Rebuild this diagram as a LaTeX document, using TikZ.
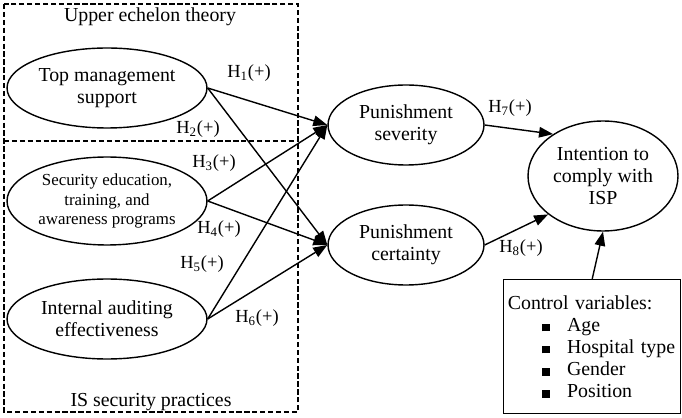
\documentclass[tikz,border=0pt]{standalone}
\usepackage{fontspec}
\setmainfont{Liberation Serif}
\usetikzlibrary{shapes.geometric,arrows.meta}

\newcommand\cvitem{\hspace*{19.5pt}\rule{4.2pt}{4.2pt}\hspace{10pt}}

\tikzset{
  construct/.style={ellipse,draw,line width=0.8pt,inner sep=0pt,align=center,
    font=\fontsize{11.3}{12.4}\selectfont},
  hypo/.style={-{Triangle[length=8pt,width=6pt]},line width=0.8pt},
  hlabel/.style={font=\fontsize{10.5}{12}\selectfont,inner sep=0pt},
  groupbox/.style={draw,line width=0.6pt,dash pattern=on 3pt off 1.5pt},
}

\begin{document}
\begin{tikzpicture}[x=0.02cm,y=-0.02cm]
    \useasboundingbox (0,0) rectangle (682,418);

    % theory groups
    \draw [groupbox] (4,4) rectangle (298,412);
    \draw [groupbox] (4,141) -- (298,141);
    \node [font=\fontsize{11.3}{12.4}\selectfont] (uet) at (150,17) {Upper echelon theory};
    \node [font=\fontsize{11.3}{12.4}\selectfont] (isp) at (151,402) {IS security practices};

    % constructs
    \node [construct,minimum width=4cm,minimum height=1.6cm] (tms) at (107,88)
    {Top management\\support};
    \node [construct,minimum width=4cm,minimum height=1.76cm,
    font=\fontsize{9.6}{11.2}\selectfont] (seta) at (107,201)
    {Security education,\\training, and\\awareness programs};
    \node [construct,minimum width=4cm,minimum height=1.6cm] (iae) at (107,319)
    {Internal auditing\\effectiveness};

    \node [construct,minimum width=3.12cm,minimum height=1.6cm] (sev) at (406,125)
    {Punishment\\severity};
    \node [construct,minimum width=3.12cm,minimum height=1.6cm] (cer) at (406,245)
    {Punishment\\certainty};

    \node [construct,minimum width=3cm,minimum height=2.2cm] (int) at (603,176)
    {Intention to\\comply with\\ISP};

    \node [draw,line width=0.8pt,anchor=north west,minimum width=3.54cm,
    minimum height=2.68cm,inner xsep=2pt,text width=96pt,align=left,
    font=\fontsize{11.3}{12.6}\selectfont] (ctrl) at (503,279)
    {Control variables:\\\cvitem Age\\\cvitem Hospital type\\\cvitem Gender\\\cvitem Position};

    % paths
    \draw [hypo] (tms.east) -- (sev.west);
    \draw [hypo] (tms.east) -- (cer.west);
    \draw [hypo] (seta.east) -- (sev.west);
    \draw [hypo] (seta.east) -- (cer.west);
    \draw [hypo] (iae.east) -- (sev.west);
    \draw [hypo] (iae.east) -- (cer.west);
    \draw [hypo] (sev.east) -- (int.140);
    \draw [hypo] (cer.east) -- (int.215);
    \draw [hypo] (ctrl.north) -- (int.south);

    \node [hlabel] (h1) at (249,73) {H\textsubscript{1}(+)};
    \node [hlabel] (h2) at (198,129) {H\textsubscript{2}(+)};
    \node [hlabel] (h3) at (214,163) {H\textsubscript{3}(+)};
    \node [hlabel] (h4) at (219,229) {H\textsubscript{4}(+)};
    \node [hlabel] (h5) at (202,264) {H\textsubscript{5}(+)};
    \node [hlabel] (h6) at (257,318) {H\textsubscript{6}(+)};
    \node [hlabel] (h7) at (510,108) {H\textsubscript{7}(+)};
    \node [hlabel] (h8) at (521,248) {H\textsubscript{8}(+)};
\end{tikzpicture}
\end{document}
